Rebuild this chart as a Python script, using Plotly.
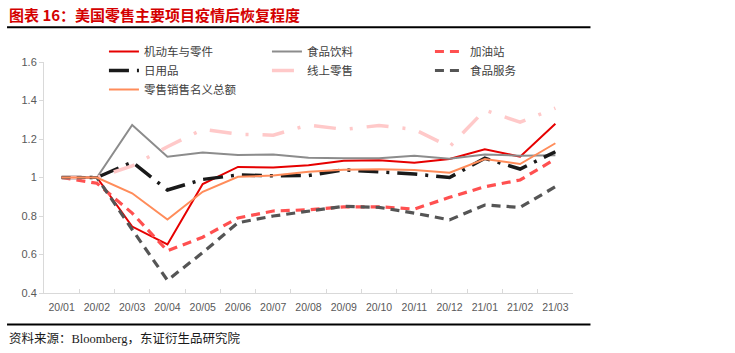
import plotly.graph_objects as go

categories = ["20/01", "20/02", "20/03", "20/04", "20/05", "20/06", "20/07", "20/08",
              "20/09", "20/10", "20/11", "20/12", "21/01", "21/02", "21/03"]

motor = [1.0, 1.0, 0.745, 0.652, 0.966, 1.055, 1.052, 1.064, 1.087, 1.09, 1.077, 1.096, 1.147, 1.108, 1.279]
food_drink = [1.0, 1.0, 1.273, 1.108, 1.13, 1.117, 1.12, 1.102, 1.1, 1.1, 1.113, 1.097, 1.12, 1.113, 1.115]
gas = [1.0, 0.97, 0.815, 0.619, 0.69, 0.79, 0.826, 0.832, 0.847, 0.848, 0.836, 0.897, 0.952, 0.987, 1.096]
daily = [1.0, 1.0, 1.08, 0.935, 0.99, 1.013, 1.009, 1.01, 1.04, 1.03, 1.018, 1.0, 1.1, 1.044, 1.134]
online = [1.0, 1.0, 1.06, 1.16, 1.25, 1.225, 1.22, 1.273, 1.25, 1.27, 1.25, 1.16, 1.35, 1.287, 1.36]
food_service = [1.0, 1.0, 0.73, 0.466, 0.61, 0.765, 0.8, 0.826, 0.85, 0.845, 0.815, 0.78, 0.857, 0.845, 0.952]
retail_total = [1.0, 1.0, 0.918, 0.782, 0.926, 1.004, 1.01, 1.03, 1.04, 1.043, 1.039, 1.025, 1.096, 1.07, 1.178]

y_ticks = [0.4, 0.6, 0.8, 1.0, 1.2, 1.4, 1.6]
y_tick_labels = ["0.4", "0.6", "0.8", "1", "1.2", "1.4", "1.6"]

series = [
    ("机动车与零件", motor, dict(color="#e60000", width=2, dash="solid")),
    ("食品饮料", food_drink, dict(color="#8c8c8c", width=2, dash="solid")),
    ("加油站", gas, dict(color="#ff5050", width=3.2, dash="9px,6px")),
    ("日用品", daily, dict(color="#1a1a1a", width=3.5, dash="20px,8px,3px,8px")),
    ("线上零售", online, dict(color="#ffc9c9", width=3.5, dash="22px,14px,3px,14px")),
    ("食品服务", food_service, dict(color="#555555", width=3.2, dash="9px,6px")),
    ("零售销售名义总额", retail_total, dict(color="#ff8c5a", width=2, dash="solid")),
]

fig = go.Figure()
for name, vals, line in series:
    fig.add_trace(go.Scatter(x=categories, y=vals, mode="lines", name=name, line=line))

L, R, T, B = 44, 161.5, 62, 60
W, H = 735, 353
pw = W - L - R
ph = H - T - B

def px2x(p):
    return (p - L) / pw

def py2y(p):
    return (H - B - p) / ph

fig.update_layout(
    width=W, height=H,
    margin=dict(l=L, r=R, t=T, b=B, pad=0),
    paper_bgcolor="white", plot_bgcolor="white",
    font=dict(family="Liberation Sans, Noto Sans CJK SC, sans-serif", size=11, color="#595959"),
    showlegend=True,
    legend=dict(
        orientation="h", x=px2x(104), y=py2y(37), xanchor="left", yanchor="top",
        entrywidth=118, entrywidthmode="pixels", tracegroupgap=0,
        bgcolor="rgba(0,0,0,0)", font=dict(size=11.5, color="#404040",
        family="Noto Sans CJK SC, Liberation Sans, sans-serif"),
        itemwidth=30,
    ),
    xaxis=dict(
        type="category", showgrid=False, showline=True, linecolor="#d9d9d9", linewidth=1,
        ticks="inside", tickson="boundaries", ticklen=4, tickcolor="#d9d9d9", tickangle=0,
        ticklabelstandoff=4,
        tickfont=dict(size=10.5, color="#595959"), range=[-0.5, 14.5],
    ),
    yaxis=dict(
        range=[0.4, 1.6], tickvals=y_ticks, ticktext=y_tick_labels, showgrid=False,
        showline=True, linecolor="#d9d9d9", linewidth=1, ticks="outside", ticklen=4,
        tickcolor="#d9d9d9", tickfont=dict(size=11, color="#595959"), zeroline=False,
    ),
)

# header and footer rules
fig.add_shape(type="line", xref="paper", yref="paper", x0=px2x(7), x1=px2x(591),
              y0=py2y(27.3), y1=py2y(27.3), line=dict(color="black", width=2))
fig.add_shape(type="line", xref="paper", yref="paper", x0=px2x(7), x1=px2x(591),
              y0=py2y(324.5), y1=py2y(324.5), line=dict(color="black", width=2))

fig.add_annotation(text="<b>图表 16：美国零售主要项目疫情后恢复程度</b>", xref="paper", yref="paper",
                   x=px2x(7), y=py2y(15), xanchor="left", yanchor="middle", showarrow=False,
                   font=dict(size=15, color="#d40000", family="Noto Sans CJK SC, sans-serif"))
fig.add_annotation(text="资料来源：Bloomberg，东证衍生品研究院", xref="paper", yref="paper",
                   x=px2x(7), y=py2y(338), xanchor="left", yanchor="middle", showarrow=False,
                   font=dict(size=12.5, color="#1a1a1a", family="Liberation Serif, Noto Sans CJK SC, serif"))

fig.write_html("out.html")
